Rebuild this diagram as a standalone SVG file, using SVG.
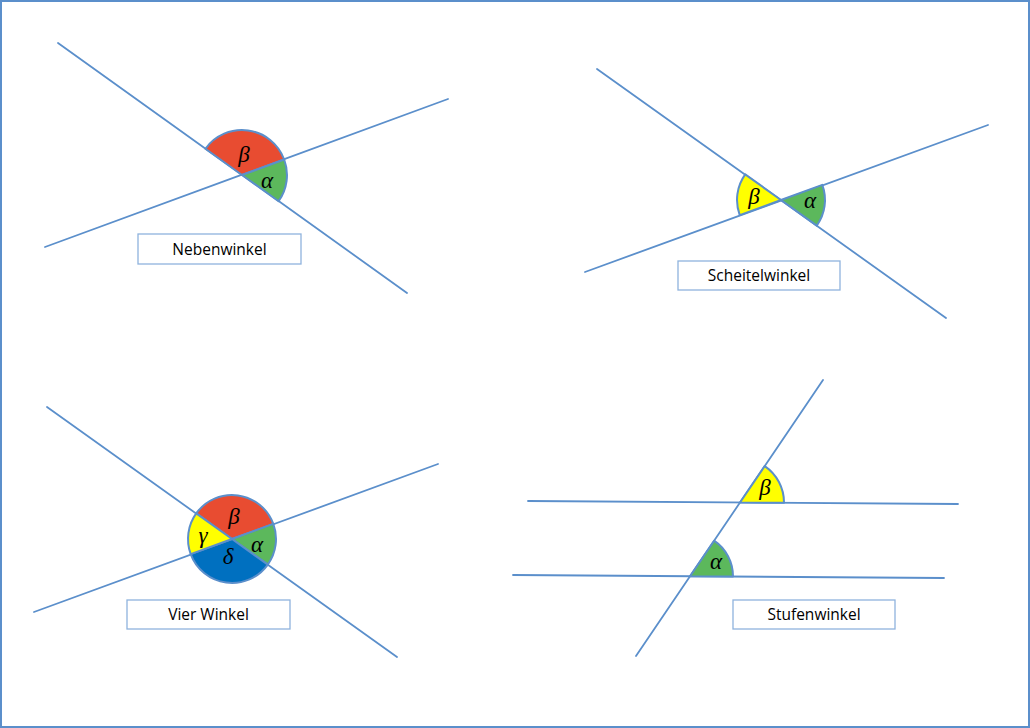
<svg xmlns="http://www.w3.org/2000/svg" width="1030" height="728" viewBox="0 0 1030 728">
<style>
.ln{stroke:#5B8FCB;stroke-width:1.8;fill:none;stroke-linecap:round}
.w{stroke:#5B8FCB;stroke-width:2;stroke-linejoin:round}
.r{fill:#E84C31}.g{fill:#5CB85C}.y{fill:#FFFF00}.b{fill:#0070C0}
.gk{font-family:"Liberation Serif","DejaVu Serif",serif;font-style:italic;font-size:23px;fill:#000;text-anchor:middle}
.bx{fill:#fff;stroke:#8FB3DD;stroke-width:1.3}
.lb{font-family:"Open Sans","Liberation Sans",sans-serif;font-size:15.5px;fill:#000;text-anchor:middle}
</style>
<rect x="0" y="0" width="1030" height="728" fill="#fff"/>
<rect x="1" y="1" width="1028" height="726" fill="none" stroke="#5B8FCB" stroke-width="2"/>
<g id="connectors">
<line class="ln" x1="58" y1="43" x2="407" y2="293"/>
<line class="ln" x1="45" y1="247" x2="448" y2="99"/>
<line class="ln" x1="597" y1="69" x2="946" y2="318"/>
<line class="ln" x1="585" y1="272" x2="988" y2="125"/>
<line class="ln" x1="47" y1="407" x2="397" y2="657"/>
<line class="ln" x1="34" y1="612" x2="438" y2="464"/>
<line class="ln" x1="823" y1="380" x2="636" y2="656"/>
<line class="ln" x1="528" y1="501" x2="958" y2="504"/>
<line class="ln" x1="513" y1="575" x2="944" y2="578"/>
</g>
<g id="nebenwinkel">
<path class="w r" d="M242 175 L205.4 148.8 A45 45 0 0 1 284.2 159.5 Z"/>
<path class="w g" d="M242 175 L284.2 159.5 A45 45 0 0 1 278.6 201.2 Z"/>
<text class="gk" x="244" y="162">β</text>
<text class="gk" x="267" y="188">α</text>
<rect class="bx" x="138" y="234" width="163" height="30"/>
<text class="lb" x="219.5" y="254.5">Nebenwinkel</text>
</g>
<g id="scheitelwinkel">
<path class="w y" d="M781 200 L739.7 215.1 A44 44 0 0 1 745.2 174.4 Z"/>
<path class="w g" d="M781 200 L822.3 184.9 A44 44 0 0 1 816.8 225.6 Z"/>
<text class="gk" x="754" y="204">β</text>
<text class="gk" x="810" y="208">α</text>
<rect class="bx" x="678" y="261" width="162" height="29"/>
<text class="lb" x="759" y="280.5">Scheitelwinkel</text>
</g>
<g id="vierwinkel">
<path class="w r" d="M232 539 L196.2 513.4 A44 44 0 0 1 273.3 523.9 Z"/>
<path class="w g" d="M232 539 L273.3 523.9 A44 44 0 0 1 267.8 564.6 Z"/>
<path class="w b" d="M232 539 L267.8 564.6 A44 44 0 0 1 190.7 554.1 Z"/>
<path class="w y" d="M232 539 L190.7 554.1 A44 44 0 0 1 196.2 513.4 Z"/>
<text class="gk" x="234" y="524">β</text>
<text class="gk" x="257" y="552">α</text>
<text class="gk" x="228" y="564">δ</text>
<text class="gk" x="203" y="543">γ</text>
<rect class="bx" x="127" y="600" width="163" height="29"/>
<text class="lb" x="208.5" y="619.5">Vier Winkel</text>
</g>
<g id="stufenwinkel">
<path class="w y" d="M740 502.5 L764.7 466.1 A44 44 0 0 1 784 502.8 Z"/>
<path class="w g" d="M690 576.3 L714.1 540.7 A43 43 0 0 1 733 576.6 Z"/>
<text class="gk" x="765" y="495">β</text>
<text class="gk" x="716" y="569">α</text>
<rect class="bx" x="733" y="600" width="162" height="29"/>
<text class="lb" x="814" y="619.5">Stufenwinkel</text>
</g>
</svg>
